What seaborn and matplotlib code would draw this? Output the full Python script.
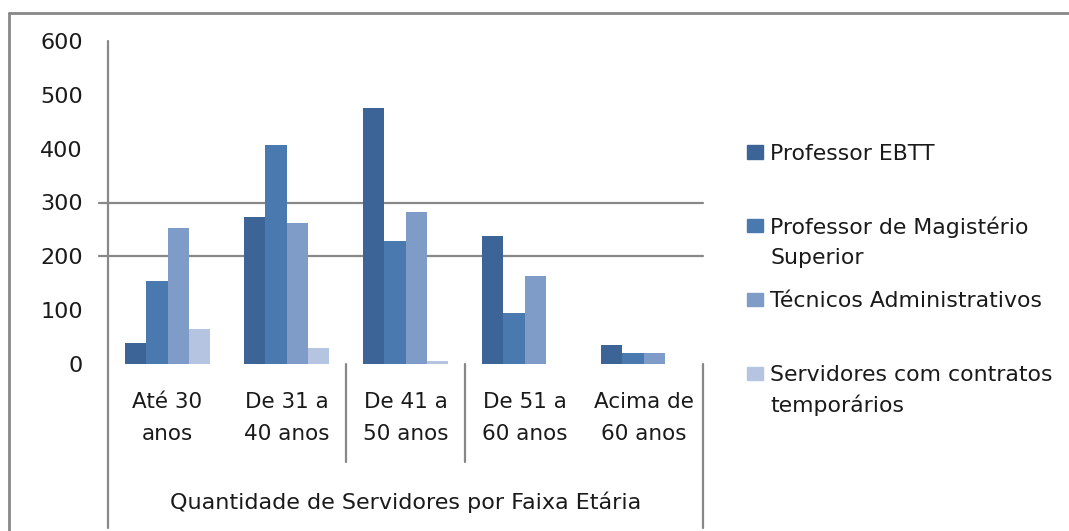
import pandas as pd
import matplotlib.pyplot as plt
import seaborn as sns
from matplotlib.lines import Line2D
from matplotlib.patches import Rectangle

sns.set_style("white")
plt.rcParams['font.family'] = ['DejaVu Sans']

faixas = ["Até 30\nanos", "De 31 a\n40 anos", "De 41 a\n50 anos", "De 51 a\n60 anos", "Acima de\n60 anos"]
series = ["Professor EBTT", "Professor de Magistério\nSuperior", "Técnicos Administrativos",
          "Servidores com contratos\ntemporários"]
ebtt = [39, 273, 476, 238, 35]
magisterio = [154, 407, 229, 95, 20]
tecnicos = [253, 262, 283, 164, 20]
temporarios = [65, 30, 5, 0, 0]
cores = ["#3C6496", "#4A79B0", "#7F9CC8", "#B5C4E0"]
titulo = "Quantidade de Servidores por Faixa Etária"

df = pd.DataFrame({"faixa": faixas, series[0]: ebtt, series[1]: magisterio,
                   series[2]: tecnicos, series[3]: temporarios})
df = df.melt(id_vars="faixa", var_name="serie", value_name="qtd")

W, H = 1069, 531
fig = plt.figure(figsize=(W / 100, H / 100), dpi=100)
ax = fig.add_axes([108 / W, 1 - 364 / H, (703 - 108) / W, (364 - 41) / H])

sns.barplot(data=df, x="faixa", y="qtd", hue="serie", hue_order=series, palette=cores,
            width=0.72, saturation=1, linewidth=0, legend=False, ax=ax, zorder=3)
ax.set_xlim(-0.5, 4.5)
ax.set_ylim(0, 600)
ax.set_xlabel("")
ax.set_ylabel("")
for s in ax.spines.values():
    s.set_visible(False)

ax.set_yticks(range(0, 700, 100))
ax.tick_params(axis='y', length=0, pad=18, labelsize=16, labelcolor="#1a1a1a")
ax.tick_params(axis='x', length=0, pad=20, labelsize=15.5, labelcolor="#1a1a1a")
for t in ax.get_xticklabels():
    t.set_linespacing(1.75)

grid_col = "#888888"
for v in (200, 300):
    ax.axhline(v, xmin=-0.015, xmax=1, color=grid_col, lw=1.6, clip_on=False, zorder=1)

# axis lines / category separators (Excel multi-level axis look)
low = (364 - 528) / (364 - 41)
ax.add_line(Line2D([0, 0], [low, 1], transform=ax.transAxes, color=grid_col, lw=1.6, clip_on=False))
ax.add_line(Line2D([1, 1], [low, 0], transform=ax.transAxes, color=grid_col, lw=1.6, clip_on=False))
sep_low = (364 - 462) / (364 - 41)
for xs in (1.5, 2.5):
    ax.add_line(Line2D([xs, xs], [sep_low, 0], transform=ax.get_xaxis_transform(),
                       color=grid_col, lw=1.6, clip_on=False))

ax.text(0.5, (364 - 502) / (364 - 41), titulo, transform=ax.transAxes, ha='center', va='center',
        fontsize=16, color="#1a1a1a")

# legend
for i, (nome, cor) in enumerate(zip(series, cores)):
    y0 = 152 + i * 73.7
    fig.patches.append(Rectangle((747 / W, 1 - (y0 + 6.5) / H), 16 / W, 13 / H,
                                 transform=fig.transFigure, color=cor))
    for j, linha in enumerate(nome.split("\n")):
        fig.text(770 / W, 1 - (y0 + j * 30) / H, linha, ha='left', va='center_baseline',
                 fontsize=15.8, color="#1a1a1a")

# outer frame
fig.add_artist(Line2D([9 / W, 1], [1 - 13 / H, 1 - 13 / H], transform=fig.transFigure, color=grid_col, lw=2))
fig.add_artist(Line2D([9 / W, 9 / W], [0, 1 - 13 / H], transform=fig.transFigure, color=grid_col, lw=2))

fig.savefig("out.png", dpi=100)
